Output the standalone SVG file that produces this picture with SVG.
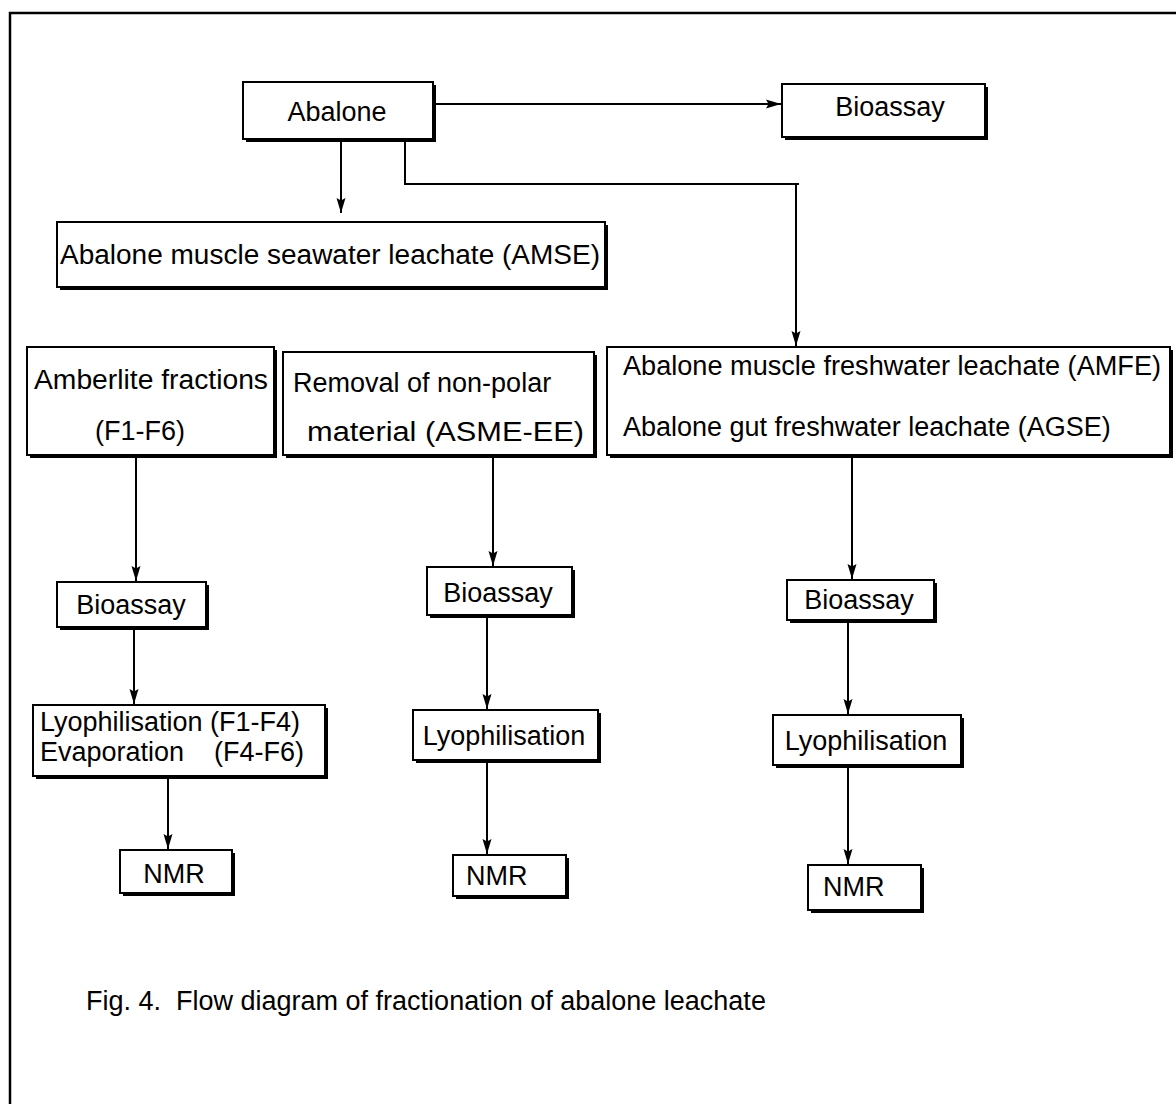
<svg xmlns="http://www.w3.org/2000/svg" width="1176" height="1104" viewBox="0 0 1176 1104">
<defs>
<style>
.box{fill:#fff;stroke:#000;stroke-width:2}
.sh{fill:#000}
.t{font-family:"Liberation Sans",Arial,sans-serif;font-size:27px;fill:#000}
.c{text-anchor:middle}
.ln{fill:none;stroke:#000;stroke-width:2}
</style>
<marker id="ah" viewBox="0 0 15 10" refX="15" refY="5" markerWidth="15" markerHeight="10" markerUnits="userSpaceOnUse" orient="auto">
<path d="M0,0.5 L15,5 L0,9.5 L2.5,5 Z" fill="#000"/>
</marker>
</defs>
<rect width="1176" height="1104" fill="#fff"/>
<path d="M10,1104 V13 H1176" fill="none" stroke="#000" stroke-width="2.5"/>

<g id="connectors">
<line class="ln" x1="433" y1="104" x2="781" y2="104" marker-end="url(#ah)"/>
<line class="ln" x1="341" y1="140" x2="341" y2="213" marker-end="url(#ah)"/>
<path class="ln" d="M405,140 V184 H799"/>
<line class="ln" x1="796" y1="184" x2="796" y2="346" marker-end="url(#ah)"/>
<line class="ln" x1="136" y1="456" x2="136" y2="581" marker-end="url(#ah)"/>
<line class="ln" x1="134" y1="628" x2="134" y2="704" marker-end="url(#ah)"/>
<line class="ln" x1="168" y1="777" x2="168" y2="849" marker-end="url(#ah)"/>
<line class="ln" x1="493" y1="456" x2="493" y2="566" marker-end="url(#ah)"/>
<line class="ln" x1="487" y1="616" x2="487" y2="709" marker-end="url(#ah)"/>
<line class="ln" x1="487" y1="761" x2="487" y2="854" marker-end="url(#ah)"/>
<line class="ln" x1="852" y1="456" x2="852" y2="579" marker-end="url(#ah)"/>
<line class="ln" x1="848" y1="621" x2="848" y2="714" marker-end="url(#ah)"/>
<line class="ln" x1="848" y1="766" x2="848" y2="864" marker-end="url(#ah)"/>
</g>

<g id="abalone">
<rect class="sh" x="246" y="85" width="190" height="57"/>
<rect class="box" x="243" y="82" width="190" height="57"/>
<text class="t c" x="337" y="121">Abalone</text>
</g>
<g id="bioassay-top">
<rect class="sh" x="785" y="87" width="203" height="53"/>
<rect class="box" x="782" y="84" width="203" height="53"/>
<text class="t c" x="890" y="116">Bioassay</text>
</g>
<g id="amse">
<rect class="sh" x="60" y="225" width="548" height="65"/>
<rect class="box" x="57" y="222" width="548" height="65"/>
<text class="t" x="60" y="264" textLength="540" lengthAdjust="spacingAndGlyphs">Abalone muscle seawater leachate (AMSE)</text>
</g>
<g id="amberlite">
<rect class="sh" x="30" y="350" width="247" height="108"/>
<rect class="box" x="27" y="347" width="247" height="108"/>
<text class="t" x="34" y="389" textLength="234" lengthAdjust="spacingAndGlyphs">Amberlite fractions</text>
<text class="t c" x="140" y="440">(F1-F6)</text>
</g>
<g id="removal">
<rect class="sh" x="286" y="355" width="311" height="103"/>
<rect class="box" x="283" y="352" width="311" height="103"/>
<text class="t" x="293" y="392">Removal of non-polar</text>
<text class="t" x="307" y="441" textLength="277" lengthAdjust="spacingAndGlyphs">material (ASME-EE)</text>
</g>
<g id="amfe">
<rect class="sh" x="610" y="350" width="563" height="108"/>
<rect class="box" x="607" y="347" width="563" height="108"/>
<text class="t" x="623" y="375" textLength="538" lengthAdjust="spacingAndGlyphs">Abalone muscle freshwater leachate (AMFE)</text>
<text class="t" x="623" y="436">Abalone gut freshwater leachate (AGSE)</text>
</g>
<g id="bioassay-1">
<rect class="sh" x="60" y="585" width="149" height="45"/>
<rect class="box" x="57" y="582" width="149" height="45"/>
<text class="t c" x="131" y="614">Bioassay</text>
</g>
<g id="lyo-1">
<rect class="sh" x="36" y="708" width="292" height="71"/>
<rect class="box" x="33" y="705" width="292" height="71"/>
<text class="t" x="40" y="731">Lyophilisation (F1-F4)</text>
<text class="t" x="40" y="761" xml:space="preserve">Evaporation    (F4-F6)</text>
</g>
<g id="nmr-1">
<rect class="sh" x="123" y="853" width="112" height="43"/>
<rect class="box" x="120" y="850" width="112" height="43"/>
<text class="t c" x="174" y="883">NMR</text>
</g>
<g id="bioassay-2">
<rect class="sh" x="430" y="570" width="145" height="48"/>
<rect class="box" x="427" y="567" width="145" height="48"/>
<text class="t c" x="498" y="602">Bioassay</text>
</g>
<g id="lyo-2">
<rect class="sh" x="416" y="713" width="185" height="50"/>
<rect class="box" x="413" y="710" width="185" height="50"/>
<text class="t c" x="504" y="745">Lyophilisation</text>
</g>
<g id="nmr-2">
<rect class="sh" x="456" y="858" width="113" height="41"/>
<rect class="box" x="453" y="855" width="113" height="41"/>
<text class="t" x="466" y="885">NMR</text>
</g>
<g id="bioassay-3">
<rect class="sh" x="790" y="583" width="147" height="40"/>
<rect class="box" x="787" y="580" width="147" height="40"/>
<text class="t c" x="859" y="609">Bioassay</text>
</g>
<g id="lyo-3">
<rect class="sh" x="776" y="718" width="188" height="50"/>
<rect class="box" x="773" y="715" width="188" height="50"/>
<text class="t c" x="866" y="750">Lyophilisation</text>
</g>
<g id="nmr-3">
<rect class="sh" x="811" y="868" width="113" height="45"/>
<rect class="box" x="808" y="865" width="113" height="45"/>
<text class="t" x="823" y="896">NMR</text>
</g>
<text id="caption" class="t" x="86" y="1010" xml:space="preserve">Fig. 4.  Flow diagram of fractionation of abalone leachate</text>
</svg>
